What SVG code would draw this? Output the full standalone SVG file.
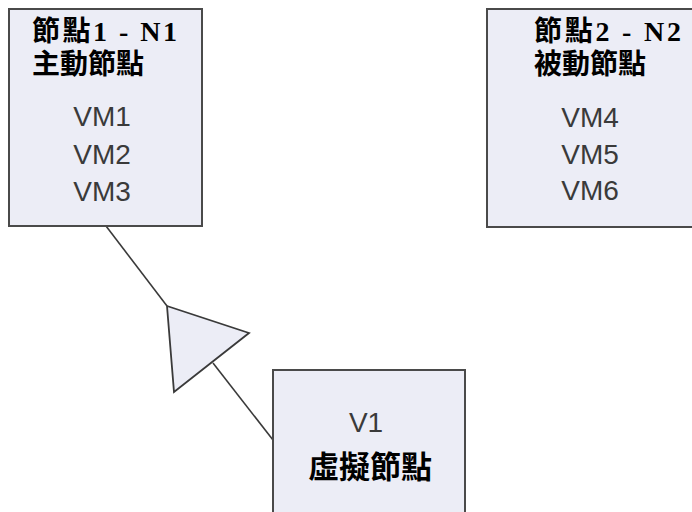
<svg xmlns="http://www.w3.org/2000/svg" width="692" height="512" viewBox="0 0 692 512">
<style>
.box{fill:#ECEDF6;stroke:#4a4a4a;stroke-width:2}
.title{font-family:"Liberation Serif","Noto Sans CJK TC",serif;font-weight:700;font-size:28px;fill:#000}
.vm{font-family:"Liberation Sans","Noto Sans CJK TC",sans-serif;font-size:28px;fill:#3a3a3a;text-anchor:middle}
.cjk{font-family:"Noto Sans CJK TC",sans-serif;font-weight:700;font-size:31px;fill:#000;text-anchor:middle}
.conn{stroke:#3a3a3a;stroke-width:1.6;fill:none}
</style>
<rect width="692" height="512" fill="#fff"/>
<g id="connectors">
<line class="conn" x1="106" y1="226" x2="167" y2="306"/>
<line class="conn" x1="213" y1="363" x2="273" y2="440"/>
<polygon points="167,306 249,333 174,392" fill="#ECEDF6" stroke="#3a3a3a" stroke-width="1.8" stroke-linejoin="miter"/>
</g>
<g id="node-n1">
<rect class="box" x="9" y="9" width="193" height="217"/>
<text class="title" x="32" y="41" textLength="145" lengthAdjust="spacing">節點1 - N1</text>
<text class="title" x="32" y="74">主動節點</text>
<text class="vm" x="102" y="126">VM1</text>
<text class="vm" x="102" y="164">VM2</text>
<text class="vm" x="102" y="201">VM3</text>
</g>
<g id="node-n2">
<rect class="box" x="487" y="9" width="215" height="218"/>
<text class="title" x="534" y="41" textLength="147" lengthAdjust="spacing">節點2 - N2</text>
<text class="title" x="534" y="74">被動節點</text>
<text class="vm" x="590" y="127">VM4</text>
<text class="vm" x="590" y="164">VM5</text>
<text class="vm" x="590" y="200">VM6</text>
</g>
<g id="node-v1">
<rect class="box" x="273" y="370" width="192" height="152"/>
<text class="vm" x="366" y="432">V1</text>
<text class="cjk" x="370" y="478">虛擬節點</text>
</g>
</svg>
